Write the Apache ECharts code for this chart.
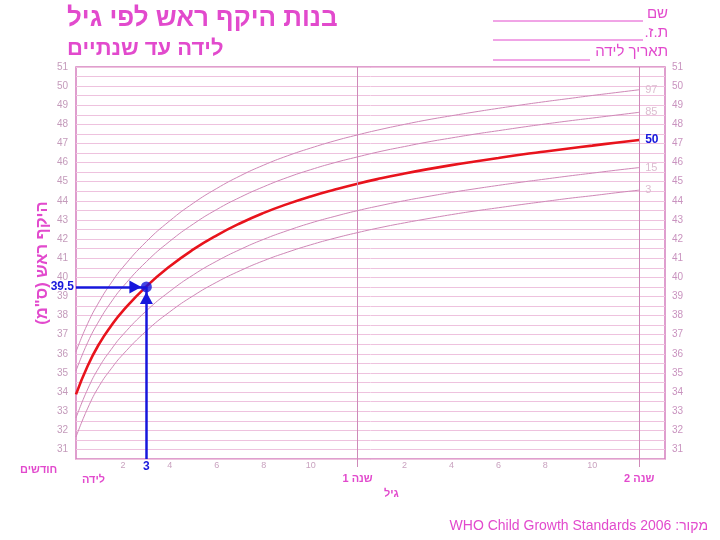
<!DOCTYPE html>
<html><head><meta charset="utf-8">
<script src="https://cdn.jsdelivr.net/npm/echarts@6/dist/echarts.min.js"></script>
<style>html,body{margin:0;padding:0;background:#fff}#c{width:720px;height:540px;direction:rtl}</style>
</head><body><div id="c"></div>
<script>
// Age in months
const months = [0,0.5,1,1.5,2,3,4,5,6,7,8,9,10,11,12,13,14,15,16,17,18,19,20,21,22,23,24];
// Head circumference (cm) by percentile
const p3  = [31.65,33.16,34.34,35.22,35.97,37.20,38.20,39.04,39.75,40.35,40.87,41.31,41.70,42.04,42.34,42.61,42.85,43.07,43.28,43.47,43.64,43.81,43.97,44.13,44.27,44.42,44.56];
const p15 = [32.65,34.16,35.33,36.23,37.00,38.25,39.27,40.13,40.85,41.46,41.99,42.44,42.84,43.18,43.49,43.76,44.01,44.23,44.44,44.63,44.81,44.98,45.14,45.30,45.45,45.60,45.74];
const p50 = [33.88,35.38,36.55,37.47,38.25,39.53,40.58,41.46,42.20,42.83,43.37,43.83,44.23,44.58,44.90,45.18,45.43,45.66,45.87,46.06,46.24,46.42,46.58,46.74,46.89,47.04,47.18];
const p85 = [35.11,36.60,37.76,38.71,39.51,40.82,41.89,42.79,43.55,44.19,44.74,45.22,45.63,45.99,46.30,46.59,46.84,47.08,47.29,47.49,47.67,47.85,48.02,48.18,48.33,48.48,48.63];
const p97 = [36.11,37.59,38.75,39.71,40.53,41.87,42.96,43.88,44.65,45.31,45.87,46.35,46.76,47.13,47.45,47.74,48.00,48.24,48.45,48.65,48.84,49.02,49.19,49.35,49.51,49.66,49.81];
// Example measurement
const markAge = 3;
const markHC = 39.5;
// Tick labels
const monthLabelValues = [2,4,6,8,10,14,16,18,20,22];
const yearTickValues = [12,24];
const yearLabels = ['שנה 1','שנה 2'];

const FONT = 'Liberation Sans, Arial, DejaVu Sans, sans-serif';
const PINK = '#e24acd';
const CURVE = '#cf88b7';
const BLUE = '#1717dc';

function pts(arr){ return months.map((m,i)=>[m,arr[i]]); }
function pctSeries(arr, name){
  return {
    type:'line', name:name, data:pts(arr), smooth:true, showSymbol:false, silent:true,
    lineStyle:{color:CURVE, width:1}, z:3,
    endLabel:{show:true, formatter:name, color:'#dcbdd0', fontSize:11, distance:6, fontFamily:FONT}
  };
}

const chart = echarts.init(document.getElementById('c'), null, {renderer:'canvas'});
const yMin = 30.5, yMax = 51;
chart.setOption({
  animation:false,
  backgroundColor:'#fff',
  textStyle:{fontFamily:FONT},
  grid:{left:76, right:55, top:67, bottom:81, show:true, borderColor:'#d57fbf', borderWidth:1.5, backgroundColor:'transparent'},
  xAxis:[{
    type:'value', min:0, max:25.1, interval:1,
    axisLine:{show:false},
    axisTick:{show:true, customValues:yearTickValues, length:8, lineStyle:{color:'#cf8ab9', width:1}},
    axisLabel:{customValues:monthLabelValues, formatter:v=>String(v%12), color:'#c9a2bf', fontSize:9, margin:2, fontFamily:FONT},
    splitLine:{show:true, lineStyle:{color:'#f4d8ea', width:1}}
  },{
    type:'value', min:0, max:25.1, position:'bottom', interval:1,
    axisLine:{show:false}, axisTick:{show:false}, splitLine:{show:false},
    axisLabel:{customValues:yearTickValues, formatter:v=>yearLabels[yearTickValues.indexOf(v)], color:PINK, fontSize:11, fontWeight:'bold', margin:14, fontFamily:FONT}
  }],
  yAxis:[{
    type:'value', min:yMin, max:yMax, interval:0.5,
    axisLine:{show:false}, axisTick:{show:false},
    axisLabel:{formatter:v=>Number.isInteger(v)?String(v):'', color:'#c49bbb', fontSize:10, margin:8, fontFamily:FONT},
    splitLine:{show:true, lineStyle:{color:'#eec2de', width:1}},
    name:'היקף ראש (ס"מ)', nameLocation:'middle', nameGap:25, nameRotate:90, nameMoveOverlap:false,
    nameTextStyle:{color:PINK, fontSize:16.5, fontWeight:'bold', fontFamily:FONT}
  },{
    type:'value', min:yMin, max:yMax, interval:0.5, position:'right',
    axisLine:{show:false}, axisTick:{show:false}, splitLine:{show:false},
    axisLabel:{formatter:v=>Number.isInteger(v)?String(v):'', color:'#c993bf', fontSize:10, margin:7, fontFamily:FONT}
  }],
  graphic:[
    {type:'text', left:67, top:6, style:{text:'בנות היקף ראש לפי גיל', fill:PINK, font:'bold 26px '+FONT}},
    {type:'text', left:67, top:38, style:{text:'לידה עד שנתיים', fill:PINK, font:'bold 22px '+FONT}},
    {type:'text', right:52, top:6, style:{text:'שם', fill:PINK, font:'15px '+FONT}},
    {type:'text', right:52, top:25, style:{text:'ת.ז.', fill:PINK, font:'15px '+FONT}},
    {type:'text', right:52, top:44, style:{text:'תאריך לידה', fill:PINK, font:'15px '+FONT}},
    {type:'line', shape:{x1:493,y1:21,x2:643,y2:21}, style:{stroke:PINK, lineWidth:1}},
    {type:'line', shape:{x1:493,y1:40,x2:643,y2:40}, style:{stroke:PINK, lineWidth:1}},
    {type:'line', shape:{x1:493,y1:60,x2:590,y2:60}, style:{stroke:PINK, lineWidth:1}},
    {type:'text', left:20, top:464, style:{text:'חודשים', fill:PINK, font:'bold 11px '+FONT}},
    {type:'text', left:82, top:474, style:{text:'לידה', fill:PINK, font:'bold 11px '+FONT}},
    {type:'text', left:384, top:488, style:{text:'גיל', fill:PINK, font:'bold 11px '+FONT}},
    {type:'text', right:12, top:519, style:{text:'מקור: WHO Child Growth Standards 2006', fill:PINK, font:'14px '+FONT}}
  ],
  series:[
    Object.assign(pctSeries(p3,'3'), {markLine:{silent:true, symbol:'none', label:{show:false},
      lineStyle:{color:'#cf8ab9', width:1, type:'solid'}, data:[{xAxis:yearTickValues[0]},{xAxis:yearTickValues[1]}]}}),
    pctSeries(p15,'15'),
    pctSeries(p85,'85'),
    pctSeries(p97,'97'),
    {type:'line', name:'50', data:pts(p50), smooth:true, showSymbol:false, silent:true,
      lineStyle:{color:'#e8131c', width:2.6}, z:4,
      endLabel:{show:true, formatter:'50', color:BLUE, fontSize:12, fontWeight:'bold', distance:6, fontFamily:FONT}},
    {type:'scatter', data:[[markAge, markHC]], symbolSize:11, itemStyle:{color:BLUE}, z:10, silent:true,
      markLine:{silent:true, symbol:['none','triangle'], symbolSize:[13,12], symbolOffset:[[0,0],[0,11]],
        lineStyle:{color:BLUE, width:2.5, type:'solid'},
        label:{show:true, position:'start', color:BLUE, fontWeight:'bold', fontSize:12, distance:2, fontFamily:FONT},
        data:[
          [{coord:[0, markHC], label:{formatter:String(markHC)}}, {coord:[markAge, markHC]}],
          [{coord:[markAge, yMin], label:{formatter:String(markAge)}}, {coord:[markAge, markHC]}]
        ]}}
  ]
});
</script></body></html>
